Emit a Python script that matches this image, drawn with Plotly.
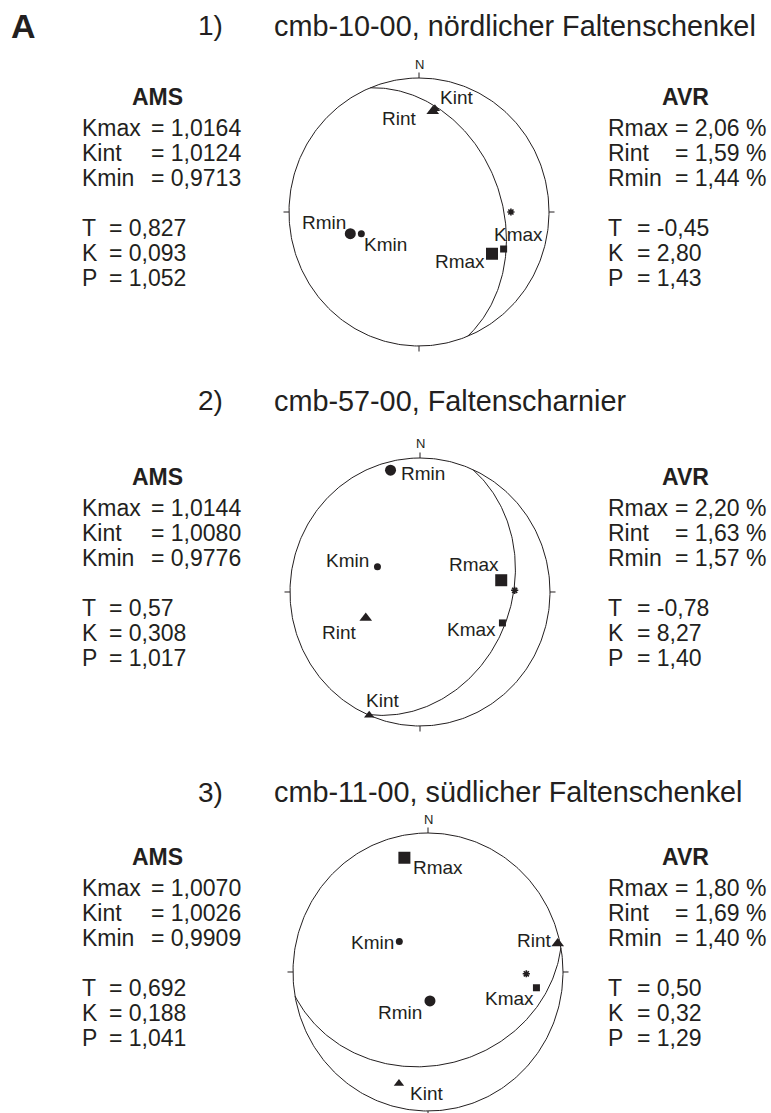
import math
import plotly.graph_objects as go

W, H = 771, 1113
INK = "#231f20"
FONT = "Liberation Sans, Arial, Helvetica, sans-serif"

# ---------------- data ----------------
panel_letter = "A"
sample_nums = ["1)", "2)", "3)"]
sample_titles = ["cmb-10-00, nördlicher Faltenschenkel",
                 "cmb-57-00, Faltenscharnier",
                 "cmb-11-00, südlicher Faltenschenkel"]

axis_names = ["Kmax", "Kint", "Kmin", "Rmax", "Rint", "Rmin"]
# principal axes, lower hemisphere: trend / plunge in degrees (order = axis_names)
trend_1 = [113, 9, 250, 119, 8, 253]
plunge_1 = [30, 23, 51, 36, 25, 44]
trend_2 = [110, 203, 300, 82, 245, 346]
plunge_2 = [33, 0, 59, 37, 52, 7]
trend_3 = [98, 195, 316, 348, 78, 176]
plunge_3 = [20, 18, 65, 17, 2, 73]

# small star symbol
star_trend = [90, 89, 91]
star_plunge = [30, 28, 28]

# great circle (plane): dip direction / dip
plane_dipdir = [68, 114, 170]
plane_dip = [37, 31, 33]

ams_labels = ["Kmax", "Kint", "Kmin"]
avr_labels = ["Rmax", "Rint", "Rmin"]
shape_labels = ["T", "K", "P"]

ams_k_1 = ["1,0164", "1,0124", "0,9713"]
ams_tkp_1 = ["0,827", "0,093", "1,052"]
avr_r_1 = ["2,06 %", "1,59 %", "1,44 %"]
avr_tkp_1 = ["-0,45", "2,80", "1,43"]

ams_k_2 = ["1,0144", "1,0080", "0,9776"]
ams_tkp_2 = ["0,57", "0,308", "1,017"]
avr_r_2 = ["2,20 %", "1,63 %", "1,57 %"]
avr_tkp_2 = ["-0,78", "8,27", "1,40"]

ams_k_3 = ["1,0070", "1,0026", "0,9909"]
ams_tkp_3 = ["0,692", "0,188", "1,041"]
avr_r_3 = ["1,80 %", "1,69 %", "1,40 %"]
avr_tkp_3 = ["0,50", "0,32", "1,29"]

trends = [trend_1, trend_2, trend_3]
plunges = [plunge_1, plunge_2, plunge_3]
ams_k = [ams_k_1, ams_k_2, ams_k_3]
ams_tkp = [ams_tkp_1, ams_tkp_2, ams_tkp_3]
avr_r = [avr_r_1, avr_r_2, avr_r_3]
avr_tkp = [avr_tkp_1, avr_tkp_2, avr_tkp_3]

# ---------------- layout / style ----------------
# net centre and radii in pixels
geom = [(419, 212, 130, 134), (420, 592, 130, 134), (428, 972, 135, 139)]
block_dy = [0, 380, 760]
title_y = [26, 401, 792]

marker_style = {
    "Kmax": ("square", 7), "Kint": ("triangle-up", 9), "Kmin": ("circle", 7),
    "Rmax": ("square", 12), "Rint": ("triangle-up", 11), "Rmin": ("circle", 11),
}
label_offsets = [
    {"Kmax": (15, -15), "Kint": (22, -11), "Kmin": (24, 11),
     "Rmax": (-32, 8), "Rint": (-33, 7), "Rmin": (-26, -11)},
    {"Kmax": (-31, 7), "Kint": (13, -15), "Kmin": (-30, -6),
     "Rmax": (-27, -16), "Rint": (-26, 14), "Rmin": (32, 3)},
    {"Kmax": (-27, 11), "Kint": (28, 10), "Kmin": (-27, 1),
     "Rmax": (34, 10), "Rint": (-23, -3), "Rmin": (-30, 12)},
]


def project(trend, plunge):
    r = math.sqrt(2) * math.sin(math.radians(90 - plunge) / 2)
    t = math.radians(trend)
    return r * math.sin(t), r * math.cos(t)


def great_circle(dipdir, dip):
    s = math.radians(dipdir - 90)
    dd = math.radians(dipdir)
    dp = math.radians(dip)
    sv = (math.cos(s), math.sin(s), 0.0)
    dv = (math.cos(dp) * math.cos(dd), math.cos(dp) * math.sin(dd), math.sin(dp))
    xs, ys = [], []
    for i in range(0, 181):
        a = math.radians(i)
        n = math.cos(a) * sv[0] + math.sin(a) * dv[0]
        e = math.cos(a) * sv[1] + math.sin(a) * dv[1]
        d = math.cos(a) * sv[2] + math.sin(a) * dv[2]
        d = max(-1.0, min(1.0, d))
        tr = math.degrees(math.atan2(e, n))
        pl = math.degrees(math.asin(d))
        x, y = project(tr, pl)
        xs.append(x)
        ys.append(y)
    return xs, ys


fig = go.Figure()
annotations = []


def paper_text(xp, yp, text, size, bold=False, anchor="left"):
    annotations.append(dict(
        x=xp / W, y=1 - yp / H, xref="paper", yref="paper",
        text=f"<b>{text}</b>" if bold else text, showarrow=False,
        xanchor=anchor, yanchor="middle", borderpad=0,
        font=dict(family=FONT, size=size, color=INK)))


layout_axes = {}
for p in range(3):
    cx, cy, rx, ry = geom[p]
    k = "" if p == 0 else str(p + 1)
    xa, ya = "x" + k, "y" + k
    x0, x1 = cx - 1.3 * rx, cx + 1.3 * rx
    y0, y1 = max(cy - 1.3 * ry, 0), min(cy + 1.3 * ry, H)
    layout_axes["xaxis" + k] = dict(domain=[x0 / W, x1 / W],
                                    range=[(x0 - cx) / rx, (x1 - cx) / rx],
                                    visible=False, fixedrange=True, anchor=ya)
    layout_axes["yaxis" + k] = dict(domain=[1 - y1 / H, 1 - y0 / H],
                                    range=[(cy - y1) / ry, (cy - y0) / ry],
                                    visible=False, fixedrange=True, anchor=xa)

    # primitive circle
    px, py = [], []
    for t in range(0, 361):
        x, y = project(t, 0)
        px.append(x)
        py.append(y)
    fig.add_trace(go.Scatter(x=px, y=py, xaxis=xa, yaxis=ya, mode="lines",
                             line=dict(color=INK, width=1), hoverinfo="skip",
                             showlegend=False))
    # ticks N E S W
    tx = 5.5 / rx
    ty = 5.5 / ry
    for (ax_, ay_) in [([0, 0], [1, 1 + ty]), ([1, 1 + tx], [0, 0]),
                       ([0, 0], [-1, -1 - ty]), ([-1, -1 - tx], [0, 0])]:
        fig.add_trace(go.Scatter(x=ax_, y=ay_, xaxis=xa, yaxis=ya, mode="lines",
                                 line=dict(color=INK, width=1), hoverinfo="skip",
                                 showlegend=False))
    annotations.append(dict(x=0, y=1, xref=xa, yref=ya, text="N", showarrow=False,
                            yshift=14, xanchor="center", yanchor="middle",
                            font=dict(family=FONT, size=13, color=INK)))

    # great circle
    gx, gy = great_circle(plane_dipdir[p], plane_dip[p])
    fig.add_trace(go.Scatter(x=gx, y=gy, xaxis=xa, yaxis=ya, mode="lines",
                             line=dict(color=INK, width=1), hoverinfo="skip",
                             showlegend=False))

    # principal axes
    for name, tr, pl in zip(axis_names, trends[p], plunges[p]):
        x, y = project(tr, pl)
        sym, size = marker_style[name]
        fig.add_trace(go.Scatter(x=[x], y=[y], xaxis=xa, yaxis=ya, mode="markers",
                                 marker=dict(symbol=sym, size=size, color=INK,
                                             line=dict(width=0)),
                                 name=name, showlegend=False))
        dx, dy = label_offsets[p][name]
        annotations.append(dict(x=x, y=y, xref=xa, yref=ya, text=name,
                                showarrow=False, xshift=dx, yshift=-dy,
                                xanchor="center", yanchor="middle",
                                font=dict(family=FONT, size=19, color=INK)))
    # star
    sx, sy = project(star_trend[p], star_plunge[p])
    fig.add_trace(go.Scatter(x=[sx], y=[sy], xaxis=xa, yaxis=ya, mode="markers",
                             marker=dict(symbol="asterisk-open", size=6, color=INK,
                                         line=dict(color=INK, width=1.6)),
                             showlegend=False, hoverinfo="skip"))

    # titles
    oy = block_dy[p]
    paper_text(197, title_y[p], sample_nums[p], 28)
    paper_text(273, title_y[p], sample_titles[p], 28.8)

    # AMS block
    paper_text(157.5, 96.5 + oy, "AMS", 23, bold=True, anchor="center")
    for lab, val, yy in zip(ams_labels, ams_k[p], [127.7, 153, 178.3]):
        paper_text(81, yy + oy, lab, 23)
        paper_text(150, yy + oy, "= " + val, 23)
    for lab, val, yy in zip(shape_labels, ams_tkp[p], [228, 253.3, 278.3]):
        paper_text(81, yy + oy, lab, 23)
        paper_text(107.5, yy + oy, "= " + val, 23)

    # AVR block
    paper_text(685, 96.5 + oy, "AVR", 23, bold=True, anchor="center")
    for lab, val, yy in zip(avr_labels, avr_r[p], [127.7, 153, 178.3]):
        paper_text(607, yy + oy, lab, 23)
        paper_text(674, yy + oy, "= " + val, 23)
    for lab, val, yy in zip(shape_labels, avr_tkp[p], [228, 253.3, 278.3]):
        paper_text(607, yy + oy, lab, 23)
        paper_text(636, yy + oy, "= " + val, 23)

paper_text(10, 26, panel_letter, 34, bold=True)

fig.update_layout(width=W, height=H, margin=dict(l=0, r=0, t=0, b=0),
                  paper_bgcolor="white", plot_bgcolor="rgba(0,0,0,0)",
                  showlegend=False, annotations=annotations, **layout_axes)

fig.write_html("out.html",
               config={"displayModeBar": False, "staticPlot": True},
               post_script="document.body.style.margin='0';"
                           "document.body.style.padding='0';")
